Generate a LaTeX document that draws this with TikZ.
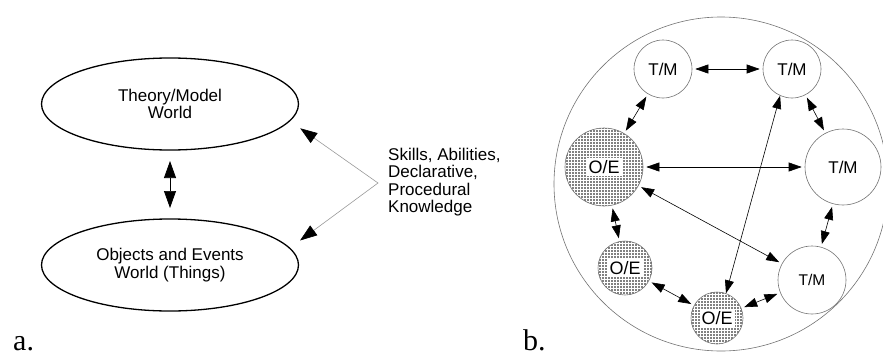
\documentclass[tikz,border=0pt]{standalone}
\usepackage{fontspec}
\setmainfont{Liberation Sans}
\newfontfamily\captionserif{Liberation Serif}
\usetikzlibrary{arrows.meta,patterns.meta,shapes.geometric}

% white patch behind a label on a dotted circle
\newcommand{\whitebox}[1]{{\fboxsep=2pt\colorbox{white}{#1}}}

\begin{document}
\begin{tikzpicture}[x=1pt,y=-1pt,
	world/.style={draw, ellipse, line width=1.3pt, minimum width=257pt, minimum height=92pt, outer sep=0pt, align=center, font=\fontsize{17}{17.5}\selectfont},
	bigarrow/.style={{Triangle[length=17pt,width=12pt]}-{Triangle[length=17pt,width=12pt]}, line width=0.7pt},
	skillline/.style={{Triangle[length=17pt,width=12pt,color=black]}-{Triangle[length=17pt,width=12pt,color=black]}, draw=black!40, line width=0.6pt},
	tm/.style={draw=black!55, circle, line width=0.6pt, inner sep=0pt},
	oe/.style={tm, pattern={Dots[distance=3pt,radius=0.8pt]}, font=\fontsize{18}{18}\selectfont},
	link/.style={{Triangle[length=13pt,width=9pt]}-{Triangle[length=13pt,width=9pt]}, line width=0.6pt, shorten <=3pt, shorten >=3pt},
	caption/.style={anchor=base west, inner sep=0pt, font=\captionserif\fontsize{30}{30}\selectfont}]
	\useasboundingbox (0,0) rectangle (883,356);

	% part a: the two worlds
	\node[world] (theory) at (170,104) {Theory/Model\\World};
	\node[world] (things) at (170,265) {Objects and Events\\World (Things)};
	\draw[bigarrow, shorten <=11pt, shorten >=11pt] (theory) -- (things);
	% skills link both worlds
	\coordinate (apex) at (378,183);
	\node[anchor=west, align=left, inner sep=0pt, font=\fontsize{17}{17.3}\selectfont] (skills) at (388,182) {Skills, Abilities,\\Declarative,\\Procedural\\Knowledge};
	\draw[skillline, shorten <=13pt, shorten >=13pt] (theory.-8) -- (apex) -- (things.8);
	\node[caption] (label_a) at (13,350) {a.};

	% part b: frame
	\node[draw=black!55, circle, line width=0.6pt, minimum size=334pt] (frame) at (721,184) {};
	% theory/model circles
	\foreach \x/\y/\size/\fs [count=\index] in {663/69/58/17, 792/69/58/17, 843/167/76/17, 812/280/68/15.5}
	{
		\node[tm, minimum size=\size, font=\fontsize{\fs}{\fs}\selectfont] (tm_\index) at (\x,\y) {T/M};
	}
	% objects/events circles
	\foreach \x/\y/\size [count=\index] in {604/167/78, 625/268/54, 717/318/52}
	{
		\node[oe, minimum size=\size] (oe_\index) at (\x,\y) {\whitebox{O/E}};
	}
	% links
	\foreach \from/\to in {tm_1/tm_2, tm_2/tm_3, tm_3/tm_4, tm_1/oe_1, oe_1/oe_2, oe_2/oe_3, oe_3/tm_4, oe_1/tm_3, oe_1/tm_4}
	{
		\draw[link] (\from) -- (\to);
	}
	\draw[link, shorten <=0pt, shorten >=0pt] (tm_2.-114) -- (oe_3.70);
	\node[caption] (label_b) at (523,350) {b.};
\end{tikzpicture}
\end{document}
